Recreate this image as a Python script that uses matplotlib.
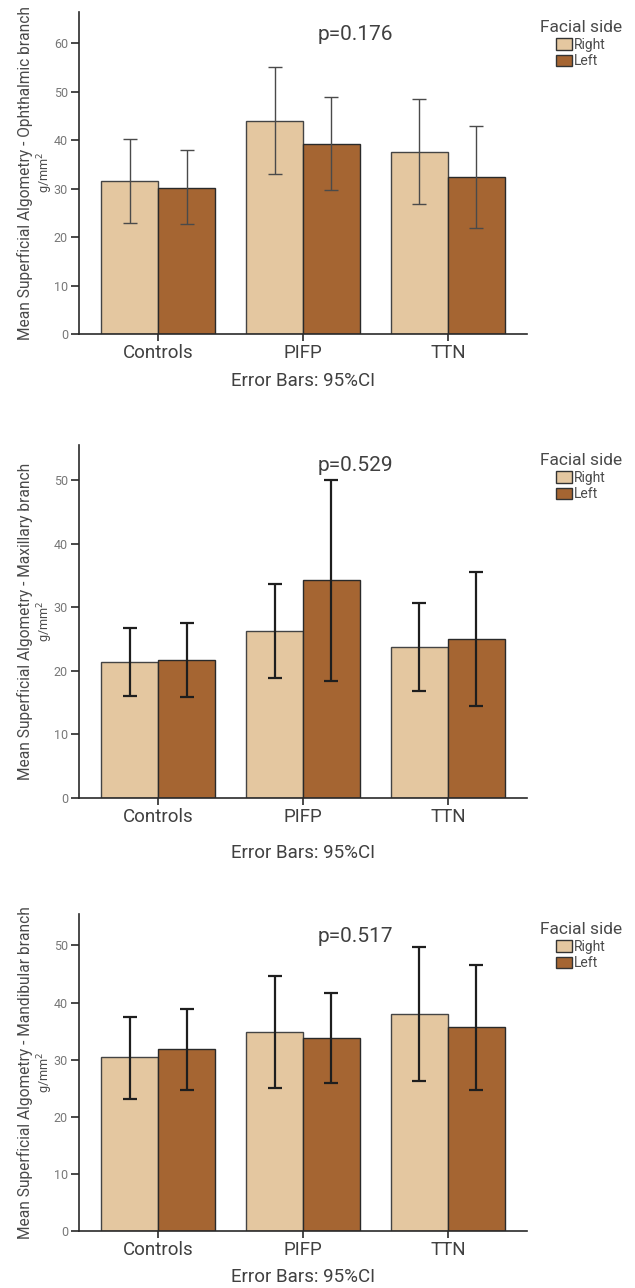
import numpy as np
import matplotlib
matplotlib.use("Agg")
import matplotlib.pyplot as plt
from matplotlib.patches import Patch

plt.rcParams["font.family"] = ["Roboto", "DejaVu Sans"]

W, H = 635, 1288

categories = ["Controls", "PIFP", "TTN"]
sides = ["Right", "Left"]

# Ophthalmic branch
oph_right = [31.5, 44.0, 37.6]
oph_right_lo = [22.9, 33.0, 26.9]
oph_right_hi = [40.2, 55.1, 48.5]
oph_left = [30.2, 39.2, 32.4]
oph_left_lo = [22.6, 29.6, 21.8]
oph_left_hi = [37.9, 48.9, 42.9]

# Maxillary branch
max_right = [21.4, 26.25, 23.7]
max_right_lo = [16.0, 18.85, 16.9]
max_right_hi = [26.8, 33.65, 30.7]
max_left = [21.7, 34.2, 25.0]
max_left_lo = [15.9, 18.4, 14.5]
max_left_hi = [27.5, 50.0, 35.6]

# Mandibular branch
man_right = [30.4, 34.9, 37.95]
man_right_lo = [23.1, 25.05, 26.3]
man_right_hi = [37.55, 44.7, 49.65]
man_left = [31.8, 33.75, 35.7]
man_left_lo = [24.7, 25.9, 24.7]
man_left_hi = [38.95, 41.7, 46.6]

branches = ["Ophthalmic", "Maxillary", "Mandibular"]
p_values = ["p=0.176", "p=0.529", "p=0.517"]

c_right = "#E4C7A0"
c_left = "#A56532"
txt = "#404040"

# panel boxes in pixels: (top, bottom, ymax)
panels = [
    (12, 334, 66.4),
    (445, 798, 55.5),
    (914, 1231, 55.5),
]
err_y = [381, 853, 1277]
x_left, x_right = 79, 527

data = [
    (oph_right, oph_right_lo, oph_right_hi, oph_left, oph_left_lo, oph_left_hi),
    (max_right, max_right_lo, max_right_hi, max_left, max_left_lo, max_left_hi),
    (man_right, man_right_lo, man_right_hi, man_left, man_left_lo, man_left_hi),
]
err_lw = [1.0, 1.6, 1.6]
err_col = ["#4a4a4a", "#1e1e1e", "#1e1e1e"]

fig = plt.figure(figsize=(W / 100, H / 100), dpi=100)

x = np.arange(len(categories))
w = 0.393

for i, (top, bot, ymax) in enumerate(panels):
    ax = fig.add_axes([x_left / W, 1 - bot / H, (x_right - x_left) / W, (bot - top) / H])
    r, rlo, rhi, l, llo, lhi = [np.array(a) for a in data[i]]

    ax.bar(x - w / 2, r, w, color=c_right, edgecolor="#444444", linewidth=1.0, zorder=2)
    ax.bar(x + w / 2, l, w, color=c_left, edgecolor="#2a2a2a", linewidth=1.0, zorder=2)
    ax.errorbar(x - w / 2, r, yerr=[r - rlo, rhi - r], fmt="none", ecolor=err_col[i],
                elinewidth=err_lw[i], capsize=5, capthick=err_lw[i], zorder=3)
    ax.errorbar(x + w / 2, l, yerr=[l - llo, lhi - l], fmt="none", ecolor=err_col[i],
                elinewidth=err_lw[i], capsize=5, capthick=err_lw[i], zorder=3)

    ax.set_xlim(-0.545, 2.545)
    ax.set_ylim(0, ymax)
    ax.set_yticks(np.arange(0, ymax, 10))
    ax.set_xticks(x)
    ax.set_xticklabels(categories)
    for s in ["top", "right"]:
        ax.spines[s].set_visible(False)
    for s in ["left", "bottom"]:
        ax.spines[s].set_color("#2a2a2a")
        ax.spines[s].set_linewidth(1.2)
    ax.tick_params(axis="y", length=6, width=1.2, color="#2a2a2a", labelsize=9,
                   labelcolor="#777777", pad=2)
    ax.tick_params(axis="x", length=5, width=1.2, color="#2a2a2a", labelsize=13.5,
                   labelcolor=txt, pad=2)

    ax.text(0.616, 0.93 if i != 1 else 0.943, p_values[i], transform=ax.transAxes,
            ha="center", va="center", fontsize=15, color=txt)

    mid = (top + bot) / 2
    fig.text(25 / W, 1 - mid / H, f"Mean Superficial Algometry - {branches[i]} branch",
             rotation=90, ha="center", va="center", fontsize=11.2, color="#4a4a4a")
    fig.text(45 / W, 1 - mid / H, "g/mm$^2$", rotation=90, ha="center", va="center",
             fontsize=9, color="#4a4a4a")

    fig.text((x_left + x_right) / 2 / W, 1 - err_y[i] / H, "Error Bars: 95%CI",
             ha="center", va="center", fontsize=13.5, color=txt)

    handles = [Patch(facecolor=c_right, edgecolor="#333333", label="Right"),
               Patch(facecolor=c_left, edgecolor="#333333", label="Left")]
    leg = ax.legend(handles=handles, title="Facial side", loc="upper left",
                    bbox_to_anchor=(530 / W, 1 - (top - 2) / H),
                    bbox_transform=fig.transFigure, frameon=False,
                    fontsize=10, title_fontsize=12.5,
                    handlelength=1.2, handleheight=0.95,
                    handletextpad=0.15, labelspacing=0.2, borderpad=0.2)
    leg.get_title().set_color("#4a4a4a")
    for t in leg.get_texts():
        t.set_color("#4a4a4a")

fig.savefig("out.png", dpi=100)
